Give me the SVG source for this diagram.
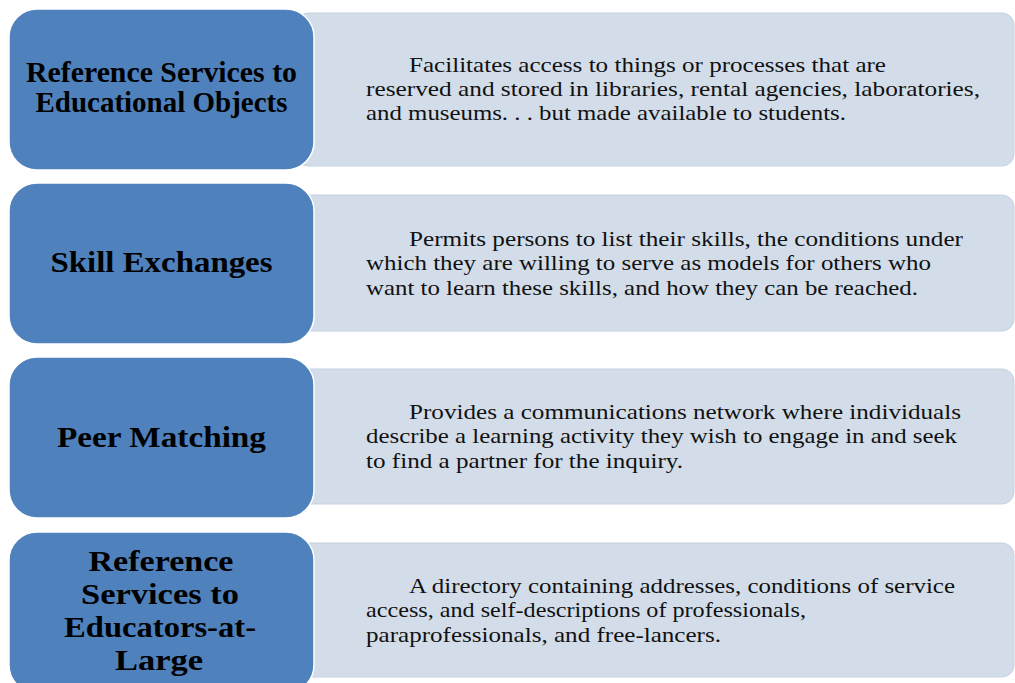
<svg xmlns="http://www.w3.org/2000/svg" width="1015" height="683" viewBox="0 0 1015 683">
  <style>
    .desc-box { fill: #d3dde9; stroke: #c6d1e0; stroke-width: 1; }
    .title-box { fill: #4f81bd; stroke: #ffffff; stroke-width: 1.5; }
    .title { font-family: "Liberation Serif", "DejaVu Serif", serif; font-weight: bold; font-size: 28.5px; fill: #000000; text-anchor: middle; }
    .desc { font-family: "Liberation Serif", "DejaVu Serif", serif; font-size: 21.5px; fill: #111111; }
  </style>
  <rect width="1015" height="683" fill="#ffffff"/>

  <!-- Row 1 -->
  <g id="row1-desc">
    <rect class="desc-box" x="296" y="13" width="718" height="153" rx="12"/>
    <text class="desc" x="409" y="72" textLength="477" lengthAdjust="spacingAndGlyphs">Facilitates access to things or processes that are</text>
    <text class="desc" x="366" y="96" textLength="614" lengthAdjust="spacingAndGlyphs">reserved and stored in libraries, rental agencies, laboratories,</text>
    <text class="desc" x="366" y="120" textLength="480" lengthAdjust="spacingAndGlyphs">and museums. . . but made available to students.</text>
  </g>
  <g id="row1-title">
    <rect class="title-box" x="9" y="9" width="305" height="161" rx="28"/>
    <text class="title" x="161.5" y="82" textLength="271" lengthAdjust="spacingAndGlyphs">Reference Services to</text>
    <text class="title" x="161.5" y="112" textLength="252" lengthAdjust="spacingAndGlyphs">Educational Objects</text>
  </g>

  <!-- Row 2 -->
  <g id="row2-desc">
    <rect class="desc-box" x="296" y="195" width="718" height="136" rx="12"/>
    <text class="desc" x="409" y="246" textLength="554" lengthAdjust="spacingAndGlyphs">Permits persons to list their skills, the conditions under</text>
    <text class="desc" x="366" y="270" textLength="565" lengthAdjust="spacingAndGlyphs">which they are willing to serve as models for others who</text>
    <text class="desc" x="366" y="295" textLength="552" lengthAdjust="spacingAndGlyphs">want to learn these skills, and how they can be reached.</text>
  </g>
  <g id="row2-title">
    <rect class="title-box" x="9" y="183" width="305" height="161" rx="28"/>
    <text class="title" x="161.5" y="272" textLength="222" lengthAdjust="spacingAndGlyphs">Skill Exchanges</text>
  </g>

  <!-- Row 3 -->
  <g id="row3-desc">
    <rect class="desc-box" x="296" y="369" width="718" height="135" rx="12"/>
    <text class="desc" x="409" y="419" textLength="552" lengthAdjust="spacingAndGlyphs">Provides a communications network where individuals</text>
    <text class="desc" x="366" y="443" textLength="591" lengthAdjust="spacingAndGlyphs">describe a learning activity they wish to engage in and seek</text>
    <text class="desc" x="366" y="468" textLength="317" lengthAdjust="spacingAndGlyphs">to find a partner for the inquiry.</text>
  </g>
  <g id="row3-title">
    <rect class="title-box" x="9" y="357" width="305" height="161" rx="28"/>
    <text class="title" x="161.5" y="447" textLength="209" lengthAdjust="spacingAndGlyphs">Peer Matching</text>
  </g>

  <!-- Row 4 -->
  <g id="row4-desc">
    <rect class="desc-box" x="296" y="543" width="718" height="134" rx="12"/>
    <text class="desc" x="409" y="593" textLength="546" lengthAdjust="spacingAndGlyphs">A directory containing addresses, conditions of service</text>
    <text class="desc" x="366" y="617" textLength="440" lengthAdjust="spacingAndGlyphs">access, and self-descriptions of professionals,</text>
    <text class="desc" x="366" y="642" textLength="355" lengthAdjust="spacingAndGlyphs">paraprofessionals, and free-lancers.</text>
  </g>
  <g id="row4-title">
    <rect class="title-box" x="9" y="532" width="305" height="161" rx="28"/>
    <text class="title" x="161" y="571" textLength="145" lengthAdjust="spacingAndGlyphs">Reference</text>
    <text class="title" x="160" y="604" textLength="158" lengthAdjust="spacingAndGlyphs">Services to</text>
    <text class="title" x="160" y="637" textLength="192" lengthAdjust="spacingAndGlyphs">Educators-at-</text>
    <text class="title" x="159" y="670" textLength="88" lengthAdjust="spacingAndGlyphs">Large</text>
  </g>
</svg>
